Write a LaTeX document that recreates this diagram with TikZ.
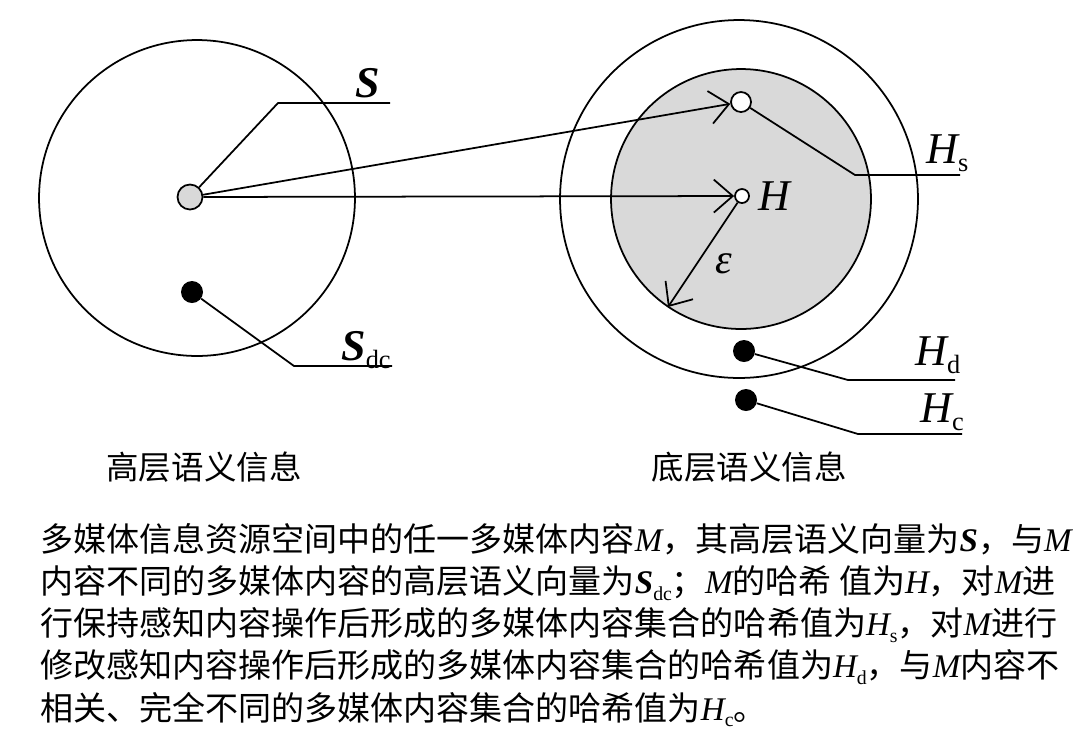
\documentclass[tikz,border=0pt]{standalone}
\usepackage{fontspec}
\setmainfont{Noto Sans CJK SC}
\newfontfamily\tms{Liberation Serif}
\usetikzlibrary{arrows.meta}
\newcommand{\mv}[1]{{\tms\itshape #1}}
\newcommand{\bv}[1]{{\tms\bfseries\itshape #1}}
\newcommand{\lsub}[1]{\raisebox{-0.2em}{\scalebox{0.6}{\tms #1}}}
\tikzset{
  grypt/.style={circle,draw,fill=gray!30,line width=1pt,minimum size=5mm,inner sep=0pt},
  hollow/.style={circle,draw,fill=white,line width=1pt,minimum size=4mm,inner sep=0pt},
  blk/.style={circle,fill=black,minimum size=4.4mm,inner sep=0pt},
  lbl/.style={inner sep=0pt,font=\fontsize{25}{25}\selectfont},
  zhtxt/.style={inner sep=0pt,font=\fontsize{18.5}{22}\selectfont},
  lead/.style={line width=1pt},
  barb/.style={-{Straight Barb[length=3.8mm,width=6.6mm]},line width=1pt},
}
\begin{document}
\begin{tikzpicture}[x=0.02cm,y=-0.02cm]
  \useasboundingbox (0,0) rectangle (1091,752);

  % high-level semantic space
  \node[circle,draw,line width=1pt,minimum size=6.32cm] (hi) at (197,198) {};
  \node[grypt] (sn)  at (190,197) {};
  \node[blk]   (sdc) at (192,292) {};

  % low-level semantic space
  \node[circle,draw,line width=1pt,minimum size=7.16cm] (lo) at (739,199) {};
  \node[circle,draw,fill=gray!30,line width=1pt,minimum size=5.2cm] (eps) at (741,199) {};
  \node[hollow] (hsn) at (741,102) {};
  \node[hollow,minimum size=2.8mm] (hn) at (742,196) {};
  \node[blk] (hdn) at (744,351) {};
  \node[blk] (hcn) at (746,400) {};
  \coordinate (rim) at (668,307);

  \draw[barb] (sn) -- (hsn);
  \draw[barb] (sn) -- (hn);
  \draw[barb] (hn) -- (rim);

  % leader lines
  \coordinate (sk) at (278,103);  \coordinate (se) at (390,103);
  \coordinate (dk) at (294,366);  \coordinate (de) at (392,366);
  \coordinate (hsk) at (855,175); \coordinate (hse) at (960,175);
  \coordinate (hdk) at (848,380); \coordinate (hde) at (955,380);
  \coordinate (hck) at (858,434); \coordinate (hce) at (962,434);
  \draw[lead] (sn) -- (sk) -- (se);
  \draw[lead] (sdc) -- (dk) -- (de);
  \draw[lead] (hsn) -- (hsk) -- (hse);
  \draw[lead] (hdn) -- (hdk) -- (hde);
  \draw[lead] (hcn) -- (hck) -- (hce);

  % labels
  \node[lbl,anchor=base west] (ls)  at (355,97)  {\bv{S}};
  \node[lbl,anchor=base west] (lsd) at (341,360) {\bv{S}\lsub{dc}};
  \node[lbl,anchor=base west] (lhs) at (926,163) {\mv{H}\lsub{s}};
  \node[lbl,anchor=base west] (lh)  at (758,210) {\mv{H}};
  \node[lbl,anchor=base west] (lhd) at (915,365) {\mv{H}\lsub{d}};
  \node[lbl,anchor=base west] (lhc) at (920,422) {\mv{H}\lsub{c}};
  \node[lbl,font=\fontsize{24}{24}\selectfont] (le) at (724,264) {\mv{ε}};

  \node[zhtxt] (chi) at (204,467) {高层语义信息};
  \node[zhtxt] (clo) at (749,467) {底层语义信息};

  \node[zhtxt,anchor=north west,align=left,font=\fontsize{18.8}{24}\selectfont] (txt) at (40,523) {%
多媒体信息资源空间中的任一多媒体内容\mv{M}，其高层语义向量为\bv{S}，与\mv{M}\\
内容不同的多媒体内容的高层语义向量为\bv{S}\lsub{dc}；\mv{M}的哈希 值为\mv{H}，对\mv{M}进\\
行保持感知内容操作后形成的多媒体内容集合的哈希值为\mv{H}\lsub{s}，对\mv{M}进行\\
修改感知内容操作后形成的多媒体内容集合的哈希值为\mv{H}\lsub{d}，与\mv{M}内容不\\
相关、完全不同的多媒体内容集合的哈希值为\mv{H}\lsub{c}。};
\end{tikzpicture}
\end{document}
